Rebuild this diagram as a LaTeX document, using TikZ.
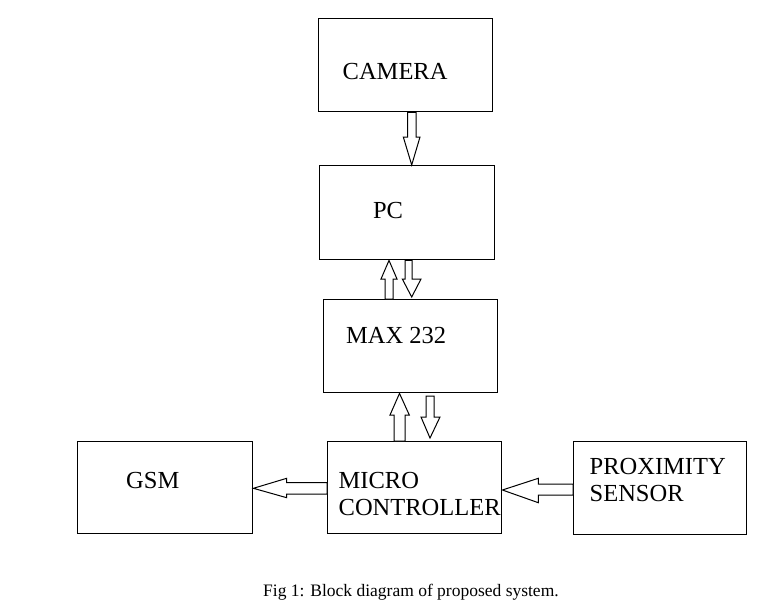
\documentclass[tikz,border=0pt]{standalone}
\usepackage{fontspec}
\setmainfont{Liberation Serif}
\begin{document}
\begin{tikzpicture}[x=1pt,y=-1pt,
  blk/.style={draw=black,line width=1.4pt,minimum width=#1,inner sep=0pt,anchor=north west},
  lbl/.style={anchor=base west,inner sep=0pt,font=\fontsize{24.5}{28}\selectfont},
  barrow/.style={draw=black,line width=1pt,fill=white,line join=miter}]
\useasboundingbox (0,0) rectangle (783,599);
% boxes
\node[blk=174pt,minimum height=93pt] (cam) at (318,18) {};
\node[blk=175pt,minimum height=94pt] (pc) at (319,165) {};
\node[blk=174pt,minimum height=93pt] (max) at (323,299) {};
\node[blk=175pt,minimum height=92pt] (gsm) at (77,441) {};
\node[blk=174pt,minimum height=92pt] (mc) at (327,441) {};
\node[blk=173pt,minimum height=93pt] (prox) at (573,441) {};
% labels
\node[lbl] (camt) at (342.5,79.3) {CAMERA};
\node[lbl] (pct) at (372.8,218) {PC};
\node[lbl] (maxt) at (346,343.3) {MAX 232};
\node[lbl] (gsmt) at (126,488) {GSM};
\node[lbl] (mct1) at (338.5,488.3) {MICRO};
\node[lbl] (mct2) at (338.5,515) {CONTROLLER};
\node[lbl] (proxt1) at (589.5,474.3) {PROXIMITY};
\node[lbl] (proxt2) at (589.5,501.7) {SENSOR};
\node[anchor=base west,inner sep=0pt,font=\fontsize{17.5}{20}\selectfont] (cap) at (263,596) {Fig 1: Block diagram of proposed system.};
% block arrows
% CAMERA -> PC
\draw[barrow] (407.5,0 |- cam.south) -- (407.5,137) -- (403.3,137) -- (411.7,0 |- pc.north)
  -- (420,137) -- (416.2,137) -- (416.2,0 |- cam.south) -- cycle;
% MAX -> PC (up)
\draw[barrow] (385,0 |- max.north) -- (385,279) -- (381,279) -- (389,0 |- pc.south)
  -- (397,279) -- (393,279) -- (393,0 |- max.north) -- cycle;
% PC -> MAX (down)
\draw[barrow] (405,0 |- pc.south) -- (405,279) -- (402.3,279) -- (411.7,297)
  -- (421,279) -- (412,279) -- (412,0 |- pc.south) -- cycle;
% MICRO -> MAX (up)
\draw[barrow] (394,0 |- mc.north) -- (394,415) -- (390,415) -- (399.5,0 |- max.south)
  -- (409.3,415) -- (405,415) -- (405,0 |- mc.north) -- cycle;
% down arrow between MAX and MICRO
\coordinate (dtop) at (430,396);
\coordinate (dtip) at (430,438);
\draw[barrow] ([xshift=-4pt]dtop) -- (426,417) -- (421,417) -- (dtip)
  -- (440,417) -- (434,417) -- ([xshift=4pt]dtop) -- cycle;
% MICRO -> GSM
\draw[barrow] (mc.west |- 0,482.7) -- (286.7,482.7) -- (286.7,478.3) -- (gsm.east |- 0,488.3)
  -- (286.7,497.7) -- (286.7,494) -- (mc.west |- 0,494) -- cycle;
% PROXIMITY -> MICRO
\draw[barrow] (prox.west |- 0,484) -- (538.3,484) -- (538.3,478.3) -- (mc.east |- 0,490)
  -- (538.3,502.7) -- (538.3,495) -- (prox.west |- 0,495) -- cycle;
\end{tikzpicture}
\end{document}
